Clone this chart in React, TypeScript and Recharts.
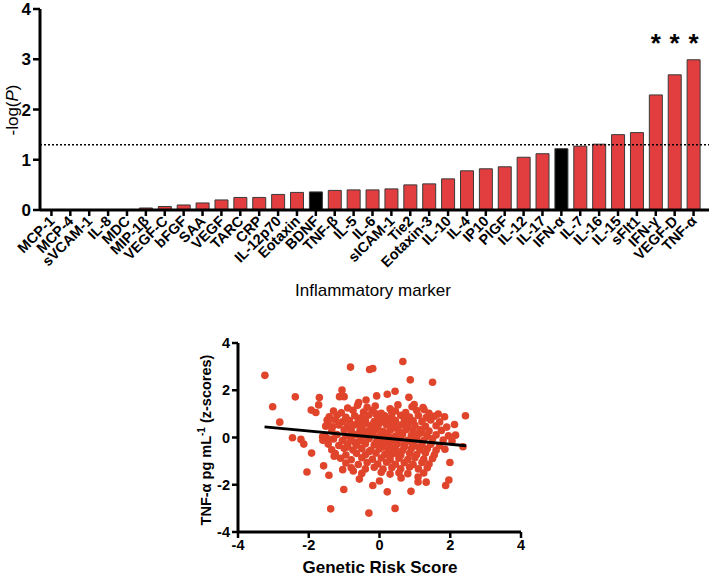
import React from "react";
import {
  ComposedChart, Bar, Cell, XAxis, YAxis, ReferenceLine,
  ScatterChart, Scatter,
} from "recharts";

const markers = [
  "MCP-1", "MCP-4", "sVCAM-1", "IL-8", "MDC", "MIP-1β", "VEGF-C", "bFGF", "SAA", "VEGF",
  "TARC", "CRP", "IL-12p70", "Eotaxin", "BDNF", "TNF-β", "IL-5", "IL-6", "sICAM-1", "Tie2",
  "Eotaxin-3", "IL-10", "IL-4", "IP10", "PlGF", "IL-12", "IL-17", "IFN-α", "IL-7", "IL-16",
  "IL-15", "sFlt1", "IFN-γ", "VEGF-D", "TNF-α",
];
const negLogP = [
  0, 0, 0, 0, 0.01, 0.04, 0.07, 0.1, 0.14, 0.2,
  0.25, 0.25, 0.31, 0.35, 0.36, 0.39, 0.4, 0.4, 0.42, 0.5,
  0.52, 0.62, 0.78, 0.82, 0.86, 1.05, 1.12, 1.22, 1.27, 1.31,
  1.5, 1.54, 2.29, 2.69, 2.99,
];
const blackBars = ["BDNF", "IFN-α"];
const significant = ["IFN-γ", "VEGF-D", "TNF-α"];
const threshold = 1.3;
const starLevel = 3.4;
const barTicks = [0, 1, 2, 3, 4];

// scatter: [genetic risk score, TNF-α z-score]
const outlierPoints: [number, number][] = [
  [-3.24, 2.63], [-3.02, 1.3], [-2.82, 0.65], [-2.38, 1.72], [-2.46, -0.01], [-2.22, -0.08],
  [-2.14, -0.28], [-1.92, -0.66], [-2.05, -1.46], [-1.7, 1.69], [-1.72, 1.38], [-1.93, 1.16],
  [-1.8, 1.06], [-1.58, -1.2], [-1.43, -1.6], [-1.38, -3.02], [-1.01, -2.2], [-1.06, 2.01],
  [-1.13, 1.73], [-1.0, 1.73], [-0.82, 2.98], [-0.28, 2.88], [-0.19, 2.92], [0.66, 3.22],
  [0.87, 2.44], [1.5, 2.34], [2.43, 0.92], [-0.3, -3.2], [0.44, -3.0], [0.22, -2.3],
  [0.89, -2.28], [1.87, -2.03], [1.96, -1.8], [1.99, -1.06], [2.36, -0.39], [2.15, 0.1],
  [2.12, 0.55], [1.84, 0.88], [1.66, 0.99], [1.23, 1.27], [0.98, 1.4], [0.83, 1.7],
  [0.44, 1.96], [0.22, 1.83], [-0.08, 1.76], [-0.38, 1.59], [-0.59, 1.48], [1.09, -1.67],
  [1.32, -1.89], [1.09, -1.88], [0.61, -1.71], [0.0, -1.84], [-0.19, -2.03], [-0.57, -1.76],
  [-0.74, -1.42], [-1.04, -1.36], [-1.28, -0.79], [-1.47, -0.04], [-1.61, 0.03], [-1.33, 0.45],
  [-1.48, 0.74],
];
const cloudPoints: [number, number][] = [
  [-0.9, 1.25], [-0.62, 1.36], [-0.35, 1.28], [-0.12, 1.33], [0.3, 1.22], [0.52, 1.38], [0.92, 1.3], [1.26, 1.18],
  [-1.3, 1.12], [-1.08, 1.05], [-0.75, 1.15], [-0.45, 1.08], [-0.2, 1.14], [0.05, 1.02], [0.45, 1.12], [0.74, 1.06], [1.05, 1.14], [1.4, 1.02],
  [-1.42, 0.88], [-1.2, 0.94], [-0.95, 0.86], [-0.7, 0.92], [-0.5, 0.84], [-0.3, 0.95], [-0.05, 0.88], [0.15, 0.92], [0.35, 0.85], [0.6, 0.94], [0.85, 0.87], [1.1, 0.93], [1.32, 0.84], [1.55, 0.9],
  [-1.45, 0.68], [-1.25, 0.74], [-1.05, 0.66], [-0.85, 0.72], [-0.6, 0.65], [-0.4, 0.73], [-0.15, 0.68], [0.05, 0.75], [0.25, 0.66], [0.45, 0.72], [0.7, 0.64], [0.95, 0.71], [1.2, 0.67], [1.45, 0.74], [1.7, 0.66],
  [-1.52, 0.48], [-1.15, 0.53], [-0.9, 0.46], [-0.7, 0.54], [-0.5, 0.47], [-0.25, 0.52], [-0.05, 0.45], [0.2, 0.54], [0.4, 0.48], [0.6, 0.53], [0.8, 0.45], [1.0, 0.52], [1.3, 0.47], [1.6, 0.5], [1.9, 0.44],
  [-1.35, 0.28], [-1.0, 0.33], [-0.8, 0.26], [-0.55, 0.32], [-0.35, 0.27], [-0.1, 0.34], [0.1, 0.26], [0.3, 0.31], [0.55, 0.25], [0.75, 0.33], [0.95, 0.28], [1.15, 0.34], [1.4, 0.27], [1.75, 0.3],
  [-1.55, 0.08], [-1.2, 0.13], [-0.95, 0.06], [-0.65, 0.12], [-0.45, 0.05], [-0.2, 0.14], [0.0, 0.07], [0.2, 0.12], [0.45, 0.06], [0.65, 0.13], [0.9, 0.08], [1.1, 0.14], [1.35, 0.05], [1.6, 0.11], [1.95, 0.07],
  [-1.6, -0.12], [-1.3, -0.06], [-1.05, -0.13], [-0.8, -0.07], [-0.55, -0.14], [-0.3, -0.05], [-0.05, -0.12], [0.15, -0.08], [0.35, -0.14], [0.6, -0.06], [0.8, -0.12], [1.05, -0.07], [1.25, -0.13], [1.5, -0.05], [1.8, -0.11], [2.05, -0.15],
  [-1.45, -0.28], [-1.15, -0.34], [-0.9, -0.27], [-0.65, -0.33], [-0.4, -0.26], [-0.15, -0.32], [0.05, -0.28], [0.3, -0.35], [0.5, -0.27], [0.7, -0.33], [0.95, -0.26], [1.2, -0.32], [1.45, -0.29], [1.7, -0.35],
  [-1.35, -0.52], [-1.0, -0.46], [-0.75, -0.53], [-0.5, -0.47], [-0.25, -0.54], [0.0, -0.48], [0.25, -0.52], [0.45, -0.46], [0.65, -0.55], [0.9, -0.47], [1.15, -0.53], [1.35, -0.48], [1.6, -0.54], [1.85, -0.5],
  [-1.25, -0.68], [-0.95, -0.74], [-0.65, -0.67], [-0.4, -0.73], [-0.1, -0.66], [0.15, -0.72], [0.4, -0.68], [0.6, -0.75], [0.85, -0.67], [1.05, -0.72], [1.3, -0.66], [1.55, -0.73],
  [-1.1, -0.88], [-0.8, -0.94], [-0.5, -0.86], [-0.2, -0.92], [0.05, -0.87], [0.3, -0.95], [0.55, -0.88], [0.8, -0.93], [1.0, -0.86], [1.25, -0.92], [1.5, -0.89],
  [-0.95, -1.08], [-0.6, -1.14], [-0.35, -1.06], [-0.05, -1.12], [0.2, -1.05], [0.45, -1.13], [0.7, -1.07], [0.95, -1.14], [1.2, -1.06], [1.4, -1.12],
  [-0.8, -1.28], [-0.4, -1.33], [-0.15, -1.26], [0.1, -1.34], [0.35, -1.27], [0.6, -1.32], [0.85, -1.25], [1.1, -1.33], [1.35, -1.28],
  [-0.5, -1.52], [0.05, -1.47], [0.3, -1.55], [0.55, -1.49], [0.8, -1.53], [1.25, -1.5],
  [-0.6, 0.8], [-0.4, 0.6], [-0.2, 0.4], [0, 0.6], [0.2, 0.8], [0.4, 0.4], [0.6, 0.2], [0.8, 0.6], [1.0, 0.0], [0.9, -0.2],
  [0.7, -0.4], [0.5, -0.6], [0.3, -0.8], [0.1, -0.4], [-0.1, -0.2], [-0.3, 0.0], [-0.5, 0.2], [-0.7, -0.2], [-0.9, -0.4], [-0.3, -0.6],
  [0.1, 0.2], [0.3, 0.0], [0.5, 0.4], [0.7, 0.8], [-0.1, 1.0], [0.35, 1.05], [-0.8, 0.4], [1.2, 0.2], [1.1, -0.4], [0.2, -0.2],
];
const fitX = [-3.25, 2.45];
const fitY = [0.45, -0.35];
const scatterTicks = [-4, -2, 0, 2, 4];

const FONT = "'Liberation Sans', Arial, Helvetica, sans-serif";
const RED = "#E23E3F";
const DOT = "#E0452B";

const barData = markers.map((name, i) => ({
  name,
  value: negLogP[i],
  star: significant.includes(name) ? starLevel : null,
}));
const scatterData = [...outlierPoints, ...cloudPoints].map(([x, y]) => ({ x, y }));
const fitData = fitX.map((x, i) => ({ x, y: fitY[i] }));

function MarkerTick(props: any) {
  const { x, y, payload } = props;
  return (
    <g transform={`translate(${x + 4},${y + 4})`}>
      <text transform="rotate(-45)" textAnchor="end" fontFamily={FONT} fontWeight="bold" fontSize={14.5} fill="#000">
        {payload.value}
      </text>
    </g>
  );
}

function Star(props: any) {
  const { cx, cy, payload } = props;
  if (payload == null || payload.star == null || cy == null) return null;
  return (
    <text x={cx} y={cy + 13} textAnchor="middle" fontFamily={FONT} fontWeight="bold" fontSize={26} fill="#000">
      *
    </text>
  );
}

function Dot(props: any) {
  return <circle cx={props.cx} cy={props.cy} r={3.8} fill={DOT} />;
}

export default function App() {
  const boldTick = { fontFamily: FONT, fontWeight: "bold", fontSize: 17, fill: "#000" };
  const smallBoldTick = { fontFamily: FONT, fontWeight: "bold", fontSize: 14.5, fill: "#000" };
  return (
    <div style={{ position: "fixed", left: 0, top: 0, width: 709, height: 576, background: "#fff" }}>
      <div style={{ position: "absolute", left: 0, top: 0 }}>
        <ComposedChart width={709} height={310} data={barData} margin={{ top: 9, right: 0, left: 0, bottom: 0 }} barSize={13}>
          <XAxis
            dataKey="name"
            interval={0}
            height={100}
            padding={{ left: 2, right: 6 }}
            axisLine={{ stroke: "#000", strokeWidth: 3 }}
            tickLine={{ stroke: "#000", strokeWidth: 2.5 }}
            tickSize={6}
            tick={<MarkerTick />}
          />
          <YAxis
            width={40}
            domain={[0, 4]}
            ticks={barTicks}
            interval={0}
            axisLine={{ stroke: "#000", strokeWidth: 3 }}
            tickLine={{ stroke: "#000", strokeWidth: 2.5 }}
            tickSize={7}
            tick={boldTick}
          />
          <ReferenceLine y={threshold} stroke="#000" strokeWidth={1.5} strokeDasharray="2 2" />
          <Bar dataKey="value" stroke="#3a3a3a" strokeWidth={1} isAnimationActive={false}>
            {barData.map((d) => (
              <Cell key={d.name} fill={blackBars.includes(d.name) ? "#000" : RED} />
            ))}
          </Bar>
          <Scatter dataKey="star" shape={<Star />} isAnimationActive={false} />
        </ComposedChart>
      </div>
      <div style={{ position: "absolute", left: 0, top: 330 }}>
        <ScatterChart width={709} height={246} margin={{ top: 13, right: 188, left: 198, bottom: 0 }}>
          <XAxis
            type="number"
            dataKey="x"
            domain={[-4, 4]}
            ticks={scatterTicks}
            interval={0}
            height={44}
            axisLine={{ stroke: "#000", strokeWidth: 3 }}
            tickLine={{ stroke: "#000", strokeWidth: 2.5 }}
            tickSize={6}
            tick={smallBoldTick}
          />
          <YAxis
            type="number"
            dataKey="y"
            domain={[-4, 4]}
            ticks={scatterTicks}
            interval={0}
            width={40}
            axisLine={{ stroke: "#000", strokeWidth: 3 }}
            tickLine={{ stroke: "#000", strokeWidth: 2.5 }}
            tickSize={6}
            tick={smallBoldTick}
          />
          <Scatter data={scatterData} shape={<Dot />} isAnimationActive={false} />
          <Scatter
            data={fitData}
            line={{ stroke: "#000", strokeWidth: 3 }}
            shape={() => null}
            isAnimationActive={false}
          />
        </ScatterChart>
      </div>
      <svg width={709} height={576} style={{ position: "absolute", left: 0, top: 0, pointerEvents: "none" }}>
        <text transform="translate(18,110) rotate(-90)" textAnchor="middle" fontFamily={FONT} fontSize={17} fill="#000">
          -log(<tspan fontStyle="italic">P</tspan>)
        </text>
        <text x={373} y={296} textAnchor="middle" fontFamily={FONT} fontSize={17} fill="#000">
          Inflammatory marker
        </text>
        <text transform="translate(211,440) rotate(-90)" textAnchor="middle" fontFamily={FONT} fontWeight="bold" fontSize={14.5} fill="#000">
          TNF-α pg mL<tspan dy={-6} fontSize={10}>-1</tspan><tspan dy={6}> (z-scores)</tspan>
        </text>
        <text x={380} y={573} textAnchor="middle" fontFamily={FONT} fontWeight="bold" fontSize={17} fill="#000">
          Genetic Risk Score
        </text>
      </svg>
    </div>
  );
}
